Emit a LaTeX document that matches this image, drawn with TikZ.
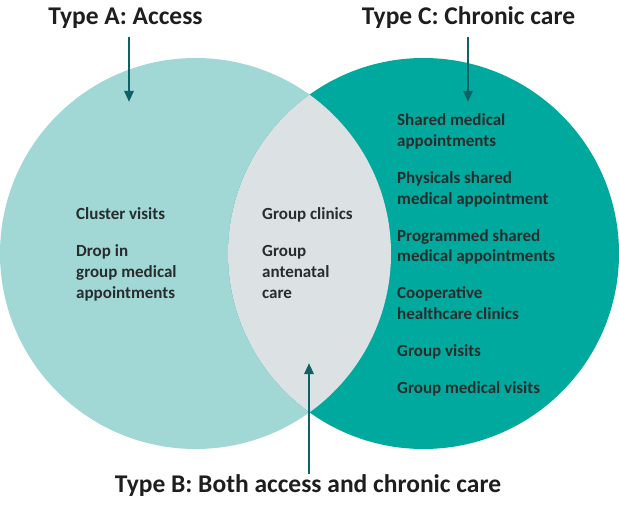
\documentclass[tikz,border=0pt]{standalone}
\usepackage{fontspec}
\setmainfont{Carlito}
\usetikzlibrary{positioning}
\usetikzlibrary{calc}
\usetikzlibrary{arrows.meta}
\definecolor{access fill}{RGB}{161,216,214}
\definecolor{chronic fill}{RGB}{0,169,157}
\definecolor{both fill}{RGB}{220,225,227}
\definecolor{pointer teal}{RGB}{14,98,102}
\definecolor{heading grey}{RGB}{30,30,30}
\definecolor{list grey}{RGB}{40,44,44}
\tikzset{
    % A solid triangular tip for the pointers
    >={Triangle[length=11pt,width=9pt]},
%
    % Large bold heading naming a type of group visit
    type heading/.style={
        font=\fontsize{25.5}{30}\selectfont\bfseries,
        text=heading grey, inner sep=0},
%
    % Bold list of visit kinds sitting inside a circle
    % (placed by the baseline of its last line)
    kind list/.style={
        font=\fontsize{17}{20.8}\selectfont\bfseries,
        text=list grey, align=left, anchor=base west, inner sep=0},
%
    % Thick dark teal pointer from a heading into the diagram
    pointer/.style={->, line width=2.8pt, draw=pointer teal}}

\begin{document}
\begin{tikzpicture}[x=1pt, y=-1pt]

% Page frame

\useasboundingbox (0,0) rectangle (619,508);

% The two overlapping circles

\coordinate (access centre) at (195.5,253.5);
\coordinate (chronic centre) at (423.5,253.5);

\fill [access fill] (access centre) circle [radius=195.5pt];
\fill [chronic fill] (chronic centre) circle [radius=195.5pt];
\begin{scope}
    \clip (access centre) circle [radius=195.5pt];
    \fill [both fill] (chronic centre) circle [radius=195.5pt];
\end{scope}

% Headings

\node [type heading, anchor=base] (typeA) at (125.5,24.5) {Type A: Access};
\node [type heading, anchor=base] (typeC) at (468.5,24.5) {Type C: Chronic care};
\node [type heading, anchor=base] (typeB) at (308,492)
    {Type B: Both access and chronic care};

% Lists of visit kinds

\node [kind list] (access list) at (76,298) {
    Cluster visits\\[16pt]
    Drop in\\
    group medical\\
    appointments};

\node [kind list] (both list) at (262,298) {
    Group clinics\\[16pt]
    Group\\
    antenatal\\
    care};

\node [kind list] (chronic list) at (397,393) {
    Shared medical\\
    appointments\\[16pt]
    Physicals shared\\
    medical appointment\\[16pt]
    Programmed shared\\
    medical appointments\\[16pt]
    Cooperative\\
    healthcare clinics\\[16pt]
    Group visits\\[16pt]
    Group medical visits};

% Pointers

\coordinate (access tip) at (129,102);
\coordinate (chronic tip) at (468,102);
\coordinate (both tip) at (309,363);

\draw [pointer, shorten <=8pt] (typeA.south -| access tip) -- (access tip);
\draw [pointer, shorten <=8pt] (typeC.south -| chronic tip) -- (chronic tip);
\draw [pointer] (typeB.north -| both tip) -- (both tip);

\end{tikzpicture}
\end{document}
